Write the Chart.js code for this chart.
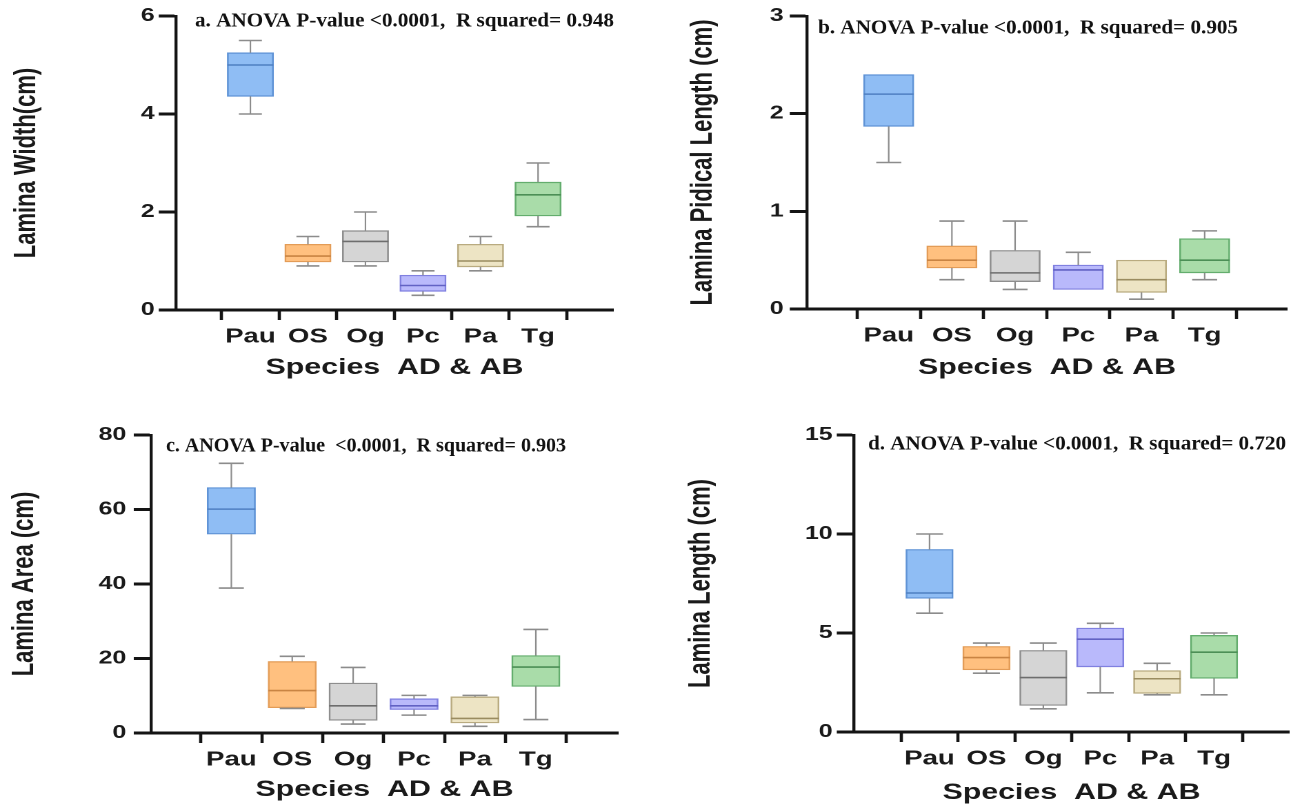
<!DOCTYPE html>
<html lang="en">
<head>
<meta charset="utf-8">
<title>Lamina - Species AD &amp; AB</title>
<script src="https://cdn.jsdelivr.net/npm/chart.js@4.4.1/dist/chart.umd.min.js"></script>
<style>
  html, body { margin: 0; padding: 0; background: #fff; }
  body { width: 1302px; height: 808px; position: relative; overflow: hidden; }
  .panel { position: absolute; width: 472px; height: 404px; transform-origin: 0 0; }
  .panel canvas { display: block; }
</style>
</head>
<body>
<div class="panel" style="left:0;top:0"><canvas id="chart-a"></canvas></div>
<div class="panel" style="left:651px;top:0"><canvas id="chart-b"></canvas></div>
<div class="panel" style="left:0;top:404px"><canvas id="chart-c"></canvas></div>
<div class="panel" style="left:651px;top:404px"><canvas id="chart-d"></canvas></div>
<script>
'use strict';

// ====================
//  Datos
// ====================
const especies = ['Pau', 'OS', 'Og', 'Pc', 'Pa', 'Tg'];

// a. Lamina Width (cm)
const ticksAncho = [0, 2, 4, 6];
const anchoMin = [4.0, 0.9, 0.9, 0.3, 0.8, 1.7];
const anchoQ1 = [4.36, 0.98, 0.98, 0.38, 0.88, 1.92];
const anchoMediana = [5.0, 1.1, 1.4, 0.5, 1.0, 2.35];
const anchoQ3 = [5.25, 1.34, 1.62, 0.71, 1.34, 2.61];
const anchoMax = [5.5, 1.5, 2.0, 0.8, 1.5, 3.0];

// b. Lamina Pidical Length (cm)
const ticksPidical = [0, 1, 2, 3];
const pidicalMin = [1.5, 0.3, 0.2, 0.2, 0.1, 0.3];
const pidicalQ1 = [1.87, 0.42, 0.28, 0.2, 0.17, 0.37];
const pidicalMediana = [2.2, 0.5, 0.37, 0.4, 0.3, 0.5];
const pidicalQ3 = [2.4, 0.645, 0.6, 0.45, 0.5, 0.72];
const pidicalMax = [2.4, 0.9, 0.9, 0.58, 0.5, 0.8];

// c. Lamina Area (cm)
const ticksArea = [0, 20, 40, 60, 80];
const areaMin = [38.9, 6.6, 2.4, 4.8, 1.8, 3.6];
const areaQ1 = [53.4, 6.8, 3.4, 6.3, 2.7, 12.5];
const areaMediana = [60.1, 11.4, 7.3, 7.3, 3.9, 17.7];
const areaQ3 = [65.9, 19.2, 13.4, 9.2, 9.7, 20.8];
const areaMax = [72.4, 20.6, 17.6, 10.1, 10.1, 27.8];

// d. Lamina Length (cm)
const ticksLargo = [0, 5, 10, 15];
const largoMin = [6.0, 2.97, 1.17, 1.98, 1.88, 1.88];
const largoQ1 = [6.75, 3.14, 1.34, 3.29, 1.95, 2.71];
const largoMediana = [7.02, 3.76, 2.75, 4.69, 2.69, 4.03];
const largoQ3 = [9.22, 4.32, 4.12, 5.25, 3.10, 4.88];
const largoMax = [10.0, 4.49, 4.49, 5.49, 3.47, 5.0];

// ====================
//  Estilos
// ====================
const coloresRelleno = ['#8fbdf4', '#ffc07f', '#d5d5d5', '#b9b9fb', '#ede4c4', '#a9dca9'];
const coloresBorde = ['#5f93d6', '#e39c57', '#8e8e8e', '#8080e0', '#b9ab80', '#63ad6d'];
const coloresMediana = ['#4f80c2', '#c98443', '#6e6e6e', '#6262c4', '#9a8c60', '#4c8f56'];
const COLOR_EJE = '#141414';
const COLOR_TEXTO = '#1a1a1a';
const COLOR_BIGOTE = '#8c8c8c';
const FUENTE = '"Liberation Sans", Arial, Helvetica, sans-serif';

// La figura original está estirada en horizontal: se dibuja en un lienzo
// más estrecho y se escala con CSS.
const ANCHO_LOGICO = 472;
const ALTO = 404;
const ESTIRADO = 651 / ANCHO_LOGICO;

function L(v) { return v / ESTIRADO; }

const pluginBigotes = {
  id: 'bigotes',
  afterDatasetsDraw(chart, args, opts) {
    const ctx = chart.ctx;
    const xs = chart.scales.x;
    const ys = chart.scales.y;
    const mitadCaja = L(opts.caja) / 2;
    const mitadTope = L(opts.tope) / 2;

    function linea(x1, y1, x2, y2) {
      ctx.beginPath();
      ctx.moveTo(x1, y1);
      ctx.lineTo(x2, y2);
      ctx.stroke();
    }

    ctx.save();
    especies.forEach(function (_, i) {
      const x = xs.getPixelForValue(i);
      const yMin = ys.getPixelForValue(opts.min[i]);
      const yQ1 = ys.getPixelForValue(opts.q1[i]);
      const yMed = ys.getPixelForValue(opts.mediana[i]);
      const yQ3 = ys.getPixelForValue(opts.q3[i]);
      const yMax = ys.getPixelForValue(opts.max[i]);

      ctx.strokeStyle = COLOR_BIGOTE;
      if (opts.max[i] > opts.q3[i]) {
        ctx.lineWidth = 1.1;
        linea(x, yMax, x, yQ3);
        ctx.lineWidth = 1.6;
        linea(x - mitadTope, yMax, x + mitadTope, yMax);
      }
      if (opts.min[i] < opts.q1[i]) {
        ctx.lineWidth = 1.1;
        linea(x, yQ1, x, yMin);
        ctx.lineWidth = 1.6;
        linea(x - mitadTope, yMin, x + mitadTope, yMin);
      }

      ctx.strokeStyle = coloresMediana[i];
      ctx.lineWidth = 1.6;
      linea(x - mitadCaja, yMed, x + mitadCaja, yMed);
    });
    ctx.restore();
  }
};

const pluginSubtitulo = {
  id: 'subtitulo',
  afterDraw(chart, args, opts) {
    const ctx = chart.ctx;
    ctx.save();
    ctx.font = 'bold 20px "Liberation Serif", "Times New Roman", serif';
    ctx.fillStyle = '#111';
    ctx.textBaseline = 'alphabetic';
    const medido = ctx.measureText(opts.texto).width;
    ctx.translate(L(opts.x), opts.y + 6.6);
    ctx.scale(L(opts.ancho) / medido, 1);
    ctx.fillText(opts.texto, 0, 0);
    ctx.restore();
  }
};

const paneles = [
  {
    canvas: 'chart-a',
    subtitulo: 'a. ANOVA P-value <0.0001,  R squared= 0.948',
    tituloY: 'Lamina Width(cm)',
    ticksY: ticksAncho,
    min: anchoMin, q1: anchoQ1, mediana: anchoMediana, q3: anchoQ3, max: anchoMax,
    area: { left: 176, right: 613, top: 16, bottom: 310 },
    xMin: -0.66, xMax: 5.67,
    caja: 46, tope: 23,
    tituloYx: 27, tituloXy: 368, padY: 3,
    sub: { x: 195, ancho: 419, y: 20 }
  },
  {
    canvas: 'chart-b',
    subtitulo: 'b. ANOVA P-value <0.0001,  R squared= 0.905',
    tituloY: 'Lamina Pidical Length (cm)',
    ticksY: ticksPidical,
    min: pidicalMin, q1: pidicalQ1, mediana: pidicalMediana, q3: pidicalQ3, max: pidicalMax,
    area: { left: 156, right: 636, top: 16, bottom: 309 },
    xMin: -0.66, xMax: 5.67,
    caja: 50, tope: 25,
    tituloYx: 52, tituloXy: 368, padY: 4.5,
    sub: { x: 167, ancho: 420, y: 27 }
  },
  {
    canvas: 'chart-c',
    subtitulo: 'c. ANOVA P-value  <0.0001,  R squared= 0.903',
    tituloY: 'Lamina Area (cm)',
    ticksY: ticksArea,
    min: areaMin, q1: areaQ1, mediana: areaMediana, q3: areaQ3, max: areaMax,
    area: { left: 151, right: 618, top: 31, bottom: 329 },
    xMin: -0.68, xMax: 5.71,
    caja: 48, tope: 25,
    tituloYx: 25, tituloXy: 386, padY: 5.5,
    sub: { x: 166, ancho: 400, y: 41 }
  },
  {
    canvas: 'chart-d',
    subtitulo: 'd. ANOVA P-value <0.0001,  R squared= 0.720',
    tituloY: 'Lamina Length (cm)',
    ticksY: ticksLargo,
    min: largoMin, q1: largoQ1, mediana: largoMediana, q3: largoQ3, max: largoMax,
    area: { left: 203, right: 638, top: 31, bottom: 328 },
    xMin: -0.69, xMax: 5.68,
    caja: 47, tope: 27,
    tituloYx: 50, tituloXy: 389, padY: 3,
    sub: { x: 217, ancho: 418, y: 39 }
  }
];

function crearPanel(p) {
  const canvas = document.getElementById(p.canvas);
  if (!canvas || typeof Chart === 'undefined') return null;
  canvas.width = ANCHO_LOGICO;
  canvas.height = ALTO;
  canvas.parentNode.style.transform = 'scaleX(' + ESTIRADO + ')';

  const dataset = {
    data: especies.map(function (_, i) {
      return { x: i, y: [p.q1[i], p.q3[i]] };
    }),
    backgroundColor: coloresRelleno,
    borderColor: coloresBorde,
    borderWidth: 1.3,
    borderSkipped: false,
    barThickness: L(p.caja)
  };

  return new Chart(canvas.getContext('2d'), {
    type: 'bar',
    data: { datasets: [dataset] },
    plugins: [pluginBigotes, pluginSubtitulo],
    options: {
      responsive: false,
      animation: false,
      devicePixelRatio: 2,
      events: [],
      layout: {
        padding: {
          top: p.area.top,
          right: ANCHO_LOGICO - L(p.area.right),
          left: 0,
          bottom: 0
        }
      },
      plugins: {
        legend: { display: false },
        tooltip: { enabled: false },
        bigotes: {
          min: p.min, q1: p.q1, mediana: p.mediana, q3: p.q3, max: p.max,
          caja: p.caja, tope: p.tope
        },
        subtitulo: { texto: p.subtitulo, x: p.sub.x, ancho: p.sub.ancho, y: p.sub.y }
      },
      scales: {
        x: {
          type: 'linear',
          min: p.xMin,
          max: p.xMax,
          afterBuildTicks: function (s) {
            s.ticks = especies.map(function (_, i) { return { value: i }; });
          },
          afterFit: function (s) { s.height = ALTO - p.area.bottom; },
          grid: {
            display: true,
            drawOnChartArea: false,
            drawTicks: true,
            tickLength: 10,
            tickWidth: 2.3,
            tickColor: COLOR_EJE
          },
          border: { display: true, color: COLOR_EJE, width: 3 },
          ticks: {
            autoSkip: false,
            maxRotation: 0,
            padding: 5,
            color: COLOR_TEXTO,
            font: { family: FUENTE, size: 20, weight: 'bold' },
            callback: function (v) { return especies[Math.round(v)]; }
          },
          title: {
            display: true,
            text: 'Species  AD & AB',
            color: COLOR_TEXTO,
            font: { family: FUENTE, size: 22, weight: 'bold' },
            padding: { top: 0, bottom: ALTO - p.tituloXy - 13.2 }
          }
        },
        y: {
          min: 0,
          max: p.ticksY[p.ticksY.length - 1],
          afterBuildTicks: function (s) {
            s.ticks = p.ticksY.map(function (v) { return { value: v }; });
          },
          afterFit: function (s) { s.width = L(p.area.left); },
          grid: {
            display: true,
            drawOnChartArea: false,
            drawTicks: true,
            tickLength: 12.5,
            tickWidth: 3,
            tickColor: COLOR_EJE
          },
          border: { display: true, color: COLOR_EJE, width: 2.2 },
          ticks: {
            padding: p.padY,
            color: COLOR_TEXTO,
            font: { family: FUENTE, size: 18, weight: 'bold' }
          },
          title: {
            display: true,
            text: p.tituloY,
            color: COLOR_TEXTO,
            font: { family: FUENTE, size: 22, weight: 'bold' },
            padding: { top: L(p.tituloYx) - 13.2, bottom: 0 }
          }
        }
      }
    }
  });
}

paneles.forEach(crearPanel);
</script>
</body>
</html>
